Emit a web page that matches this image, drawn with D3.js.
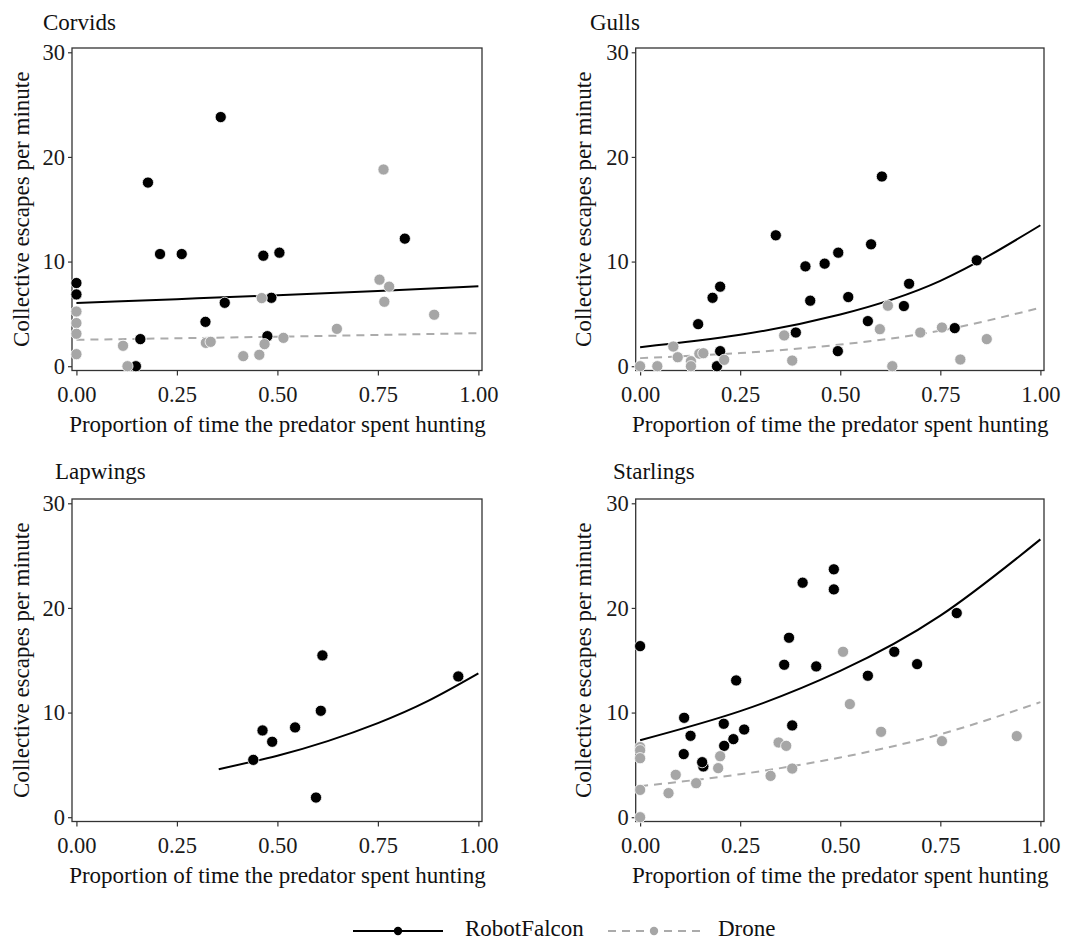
<!DOCTYPE html>
<html>
<head>
<meta charset="utf-8">
<script src="https://cdn.jsdelivr.net/npm/d3@7"></script>
<style>
  body { margin: 0; background: #fff; }
  svg { display: block; font-family: "Liberation Serif", "Times New Roman", serif; }
</style>
</head>
<body>
<svg id="chart" width="1081" height="939"></svg>
<script>
// escapes per minute vs proportion of time hunting, one panel per species
const speciesNames = ["Corvids", "Gulls", "Lapwings", "Starlings"];
const treatments = ["RobotFalcon", "Drone"];
const xTicks = [0, 0.25, 0.5, 0.75, 1];
const yTicks = [0, 10, 20, 30];

// [proportion hunting, escapes per minute]
const corvidsFalcon = [[0, 7.95], [0, 6.86], [0.148, 0], [0.159, 2.59], [0.178, 17.55], [0.208, 10.72], [0.262, 10.72], [0.321, 4.24], [0.359, 23.81], [0.369, 6.06], [0.465, 10.56], [0.475, 2.87], [0.485, 6.54], [0.505, 10.85], [0.817, 12.19]];
const corvidsDrone = [[0, 5.23], [0, 4.12], [0, 3.10], [0, 1.15], [0.116, 1.95], [0.127, 0], [0.322, 2.23], [0.334, 2.33], [0.415, 0.96], [0.455, 1.09], [0.461, 6.51], [0.468, 2.11], [0.515, 2.71], [0.648, 3.57], [0.754, 8.27], [0.764, 18.80], [0.766, 6.16], [0.778, 7.60], [0.890, 4.92]];
const corvidsFalconFit = [[0, 6.03], [0.25, 6.41], [0.5, 6.78], [0.75, 7.18], [1, 7.63]];
const corvidsDroneFit = [[0, 2.52], [0.25, 2.67], [0.5, 2.82], [0.75, 2.99], [1, 3.16]];

const gullsFalcon = [[0.145, 4.02], [0.181, 6.54], [0.192, 0], [0.200, 7.60], [0.200, 1.44], [0.339, 12.51], [0.389, 3.22], [0.413, 9.54], [0.425, 6.26], [0.461, 9.80], [0.494, 1.44], [0.495, 10.85], [0.520, 6.61], [0.569, 4.31], [0.577, 11.65], [0.604, 18.13], [0.659, 5.75], [0.672, 7.88], [0.786, 3.64], [0.841, 10.12]];
const gullsDrone = [[0, 0], [0.043, 0], [0.083, 1.88], [0.094, 0.86], [0.127, 0.48], [0.127, 0], [0.148, 1.2], [0.158, 1.24], [0.210, 0.61], [0.360, 2.94], [0.380, 0.54], [0.599, 3.54], [0.619, 5.78], [0.630, 0], [0.700, 3.22], [0.754, 3.70], [0.800, 0.64], [0.866, 2.59]];
const gullsFalconFit = [[0, 1.82], [0.25, 3.0], [0.5, 4.95], [0.75, 8.16], [1, 13.47]];
const gullsDroneFit = [[0, 0.77], [0.25, 1.26], [0.5, 2.07], [0.75, 3.40], [1, 5.59]];

const lapwingsFalcon = [[0.440, 5.48], [0.463, 8.29], [0.487, 7.21], [0.544, 8.58], [0.596, 1.88], [0.608, 10.17], [0.612, 15.46], [0.950, 13.45]];
const lapwingsDrone = [];
const lapwingsFalconFit = [[0.354, 4.59], [0.5, 5.88], [0.625, 7.27], [0.75, 8.99], [0.875, 11.11], [1, 13.74]];
const lapwingsDroneFit = [];

const starlingsFalcon = [[0, 16.35], [0.109, 6.03], [0.110, 9.50], [0.126, 7.78], [0.158, 4.85], [0.155, 5.26], [0.209, 8.93], [0.210, 6.82], [0.233, 7.46], [0.240, 13.07], [0.260, 8.38], [0.360, 14.57], [0.372, 17.15], [0.380, 8.77], [0.406, 22.41], [0.440, 14.41], [0.484, 23.69], [0.484, 21.77], [0.569, 13.52], [0.635, 15.81], [0.692, 14.63], [0.791, 19.51]];
const starlingsDrone = [[0, 6.7], [0, 6.4], [0, 5.64], [0, 2.61], [0, 0], [0.071, 2.30], [0.089, 4.05], [0.140, 3.25], [0.195, 4.69], [0.200, 5.83], [0.326, 3.95], [0.346, 7.14], [0.365, 6.82], [0.380, 4.65], [0.507, 15.81], [0.524, 10.81], [0.602, 8.16], [0.754, 7.27], [0.941, 7.75]];
const starlingsFalconFit = [[0, 7.36], [0.25, 10.14], [0.5, 13.98], [0.75, 19.26], [1, 26.55]];
const starlingsDroneFit = [[0, 2.96], [0.25, 4.11], [0.5, 5.71], [0.75, 7.93], [1, 11.0]];

const panels = [
  { falcon: corvidsFalcon, drone: corvidsDrone, falconFit: corvidsFalconFit, droneFit: corvidsDroneFit },
  { falcon: gullsFalcon, drone: gullsDrone, falconFit: gullsFalconFit, droneFit: gullsDroneFit },
  { falcon: lapwingsFalcon, drone: lapwingsDrone, falconFit: lapwingsFalconFit, droneFit: lapwingsDroneFit },
  { falcon: starlingsFalcon, drone: starlingsDrone, falconFit: starlingsFalconFit, droneFit: starlingsDroneFit }
];

const svg = d3.select("#chart");

const colLeft = [72, 635.7];
const colWidth = [410, 408.3];
const rowTop = [48, 499];
const panelH = 322.5;
const titlePos = [[43, 30], [590, 30], [55, 479], [613, 479]];
const yTitleX = [28.5, 590.5];

const color = d3.scaleOrdinal().domain(treatments).range(["#000000", "#a6a6a6"]);
const lineColor = d3.scaleOrdinal().domain(treatments).range(["#000000", "#ababab"]);
const dash = d3.scaleOrdinal().domain(treatments).range([null, "8,6"]);

panels.forEach((p, i) => {
  const col = i % 2, row = Math.floor(i / 2);
  const w = colWidth[col], h = panelH;
  const g = svg.append("g").attr("transform", `translate(${colLeft[col]},${rowTop[row]})`);

  const x = d3.scaleLinear().domain([-0.011, 1.009]).range([0, w]);
  const y = d3.scaleLinear().domain([-0.41, 30.41]).range([h, 0]);

  const xAxis = g.append("g")
    .attr("transform", `translate(0,${h})`)
    .call(d3.axisBottom(x).tickValues(xTicks).tickFormat(d3.format(".2f"))
      .tickSize(5).tickPadding(10.5).tickSizeOuter(0));
  const yAxis = g.append("g")
    .call(d3.axisLeft(y).tickValues(yTicks).tickSize(4).tickPadding(3).tickSizeOuter(0));

  [xAxis, yAxis].forEach(a => {
    a.select(".domain").remove();
    a.selectAll("line").attr("stroke", "#333").attr("stroke-width", 1.2);
    a.selectAll("text")
      .attr("fill", "#1a1a1a")
      .attr("font-size", 22.5)
      .attr("font-family", "Liberation Serif, Times New Roman, serif");
  });

  // plot frame
  g.append("rect")
    .attr("width", w)
    .attr("height", h)
    .attr("fill", "none")
    .attr("stroke", "#333")
    .attr("stroke-width", 1.3);

  const line = d3.line()
    .x(d => x(d[0]))
    .y(d => y(d[1]))
    .curve(d3.curveNatural);

  [["Drone", p.droneFit], ["RobotFalcon", p.falconFit]].forEach(([t, fit]) => {
    if (!fit.length) return;
    g.append("path")
      .datum(fit)
      .attr("d", line)
      .attr("fill", "none")
      .attr("stroke", lineColor(t))
      .attr("stroke-width", 2)
      .attr("stroke-dasharray", dash(t));
  });

  [["RobotFalcon", p.falcon], ["Drone", p.drone]].forEach(([t, pts]) => {
    g.append("g")
      .selectAll("circle")
      .data(pts)
      .enter()
      .append("circle")
        .attr("cx", d => x(d[0]))
        .attr("cy", d => y(d[1]))
        .attr("r", 5.6)
        .attr("fill", color(t))
        .attr("stroke", "#fff")
        .attr("stroke-width", 0.8);
  });

  svg.append("text")
    .attr("x", titlePos[i][0])
    .attr("y", titlePos[i][1])
    .attr("font-size", 23)
    .attr("fill", "#111")
    .text(speciesNames[i]);

  svg.append("text")
    .attr("transform", `translate(${yTitleX[col]},${rowTop[row] + h / 2}) rotate(-90)`)
    .attr("text-anchor", "middle")
    .attr("font-size", 23)
    .attr("fill", "#111")
    .text("Collective escapes per minute");

  g.append("text")
    .attr("x", x(0.5))
    .attr("y", h + 61)
    .attr("text-anchor", "middle")
    .attr("font-size", 23)
    .attr("fill", "#111")
    .text("Proportion of time the predator spent hunting");
});

// Legend
const legend = svg.append("g").attr("transform", "translate(0,931)");
const legendItems = [
  { key: "RobotFalcon", x0: 353, x1: 443, tx: 465 },
  { key: "Drone", x0: 608, x1: 700, tx: 718 }
];
legendItems.forEach(d => {
  legend.append("line")
    .attr("x1", d.x0).attr("x2", d.x1)
    .attr("stroke", lineColor(d.key))
    .attr("stroke-width", 2.2)
    .attr("stroke-dasharray", dash(d.key));
  legend.append("circle")
    .attr("cx", (d.x0 + d.x1) / 2)
    .attr("r", 4.2)
    .attr("fill", color(d.key));
  legend.append("text")
    .attr("x", d.tx)
    .attr("y", 4.5)
    .attr("font-size", 23)
    .attr("fill", "#111")
    .text(d.key);
});
</script>
</body>
</html>
